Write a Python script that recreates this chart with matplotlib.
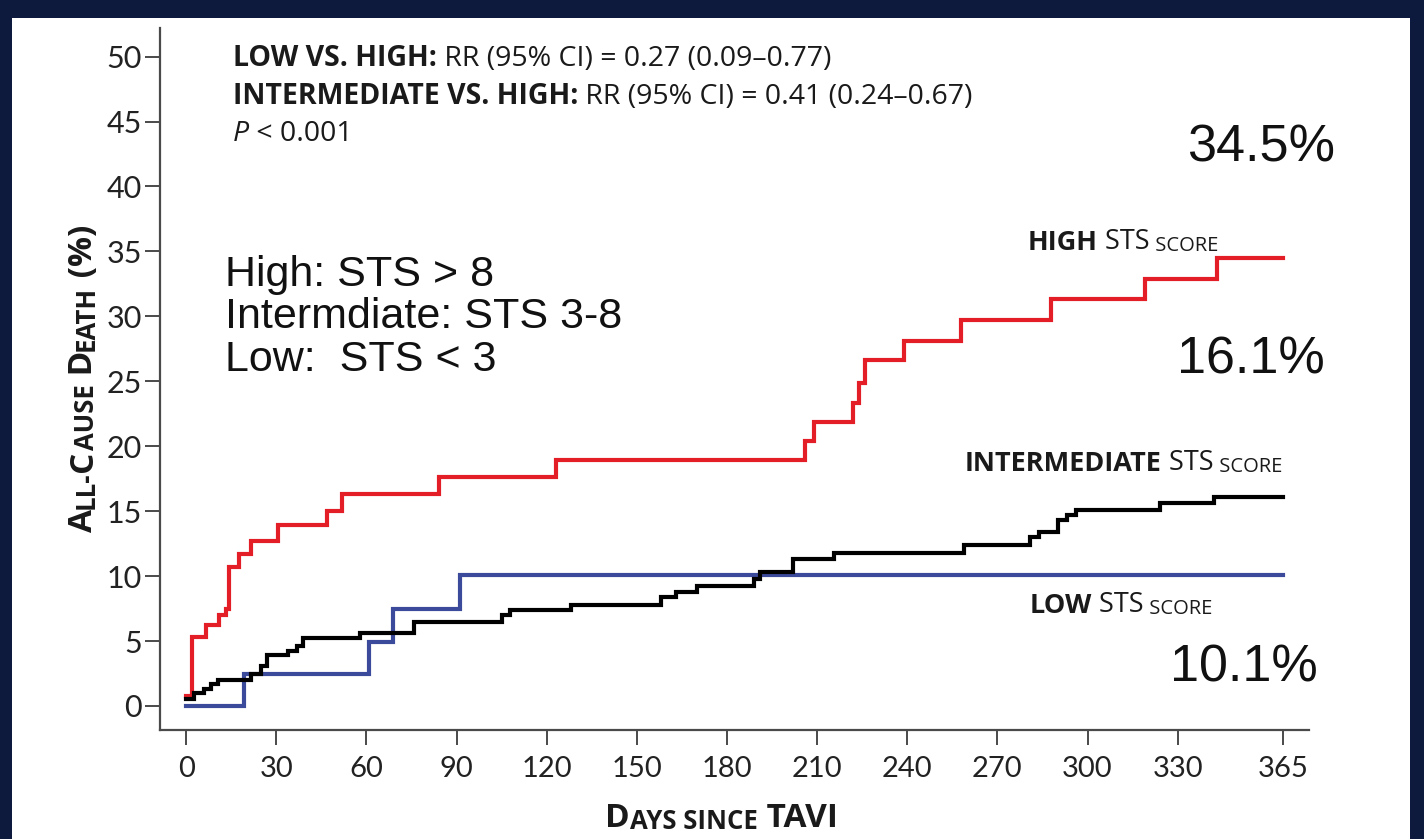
import matplotlib
matplotlib.use("Agg")
import matplotlib.pyplot as plt
from matplotlib.patches import Rectangle

# ---------------- data ----------------
high_days = [0, 2, 6.7, 11, 13.3, 14.4, 17.7, 21.7, 30.6, 47, 52, 84, 123,
             206, 209, 222, 224, 226, 239, 258, 288, 319, 343, 365]
high_vals = [0.8, 5.3, 6.2, 7.0, 7.5, 10.7, 11.7, 12.7, 13.9, 15.0, 16.3, 17.6, 18.9,
             20.4, 21.9, 23.3, 24.9, 26.6, 28.1, 29.7, 31.3, 32.9, 34.5, 34.5]

inter_days = [0, 2.7, 6, 8.3, 10.6, 21.7, 25, 27, 34, 37, 39, 57.7, 76, 105, 107.7,
              128, 158, 163, 170, 189, 191, 202, 215.7, 259, 281, 284, 290, 293, 296,
              324, 342, 365]
inter_vals = [0.5, 1.0, 1.3, 1.7, 2.0, 2.5, 3.1, 3.9, 4.2, 4.6, 5.2, 5.6, 6.5, 7.0, 7.4,
              7.8, 8.4, 8.8, 9.2, 9.8, 10.3, 11.3, 11.8, 12.4, 13.0, 13.4, 14.3, 14.7, 15.1,
              15.6, 16.1, 16.1]

low_days = [0, 19.3, 61, 69, 91, 365]
low_vals = [0.0, 2.5, 4.9, 7.5, 10.1, 10.1]

x_ticks = [0, 30, 60, 90, 120, 150, 180, 210, 240, 270, 300, 330, 365]
y_ticks = [0, 5, 10, 15, 20, 25, 30, 35, 40, 45, 50]

final_labels = ["34.5%", "16.1%", "10.1%"]
definitions = ["High: STS > 8", "Intermdiate: STS 3-8", "Low:  STS < 3"]

# ---------------- styling ----------------
RED = "#e31e26"
BLUE = "#3c4a9c"
BLACK = "#000000"
NAVY = "#0d1a3e"
SPINE = "#4a4a4a"
CAL = "Open Sans"
TICKFONT = "Lato"

W, H = 1424, 839
fig = plt.figure(figsize=(W / 100, H / 100), dpi=100, facecolor=NAVY)
fig.patches.append(Rectangle((12 / W, 0), (1410 - 12) / W, (H - 18) / H,
                             transform=fig.transFigure, facecolor="white",
                             edgecolor="none", zorder=-5))

L, R, T, B = 160, 1309, 28, 730
ax = fig.add_axes([L / W, 1 - B / H, (R - L) / W, (B - T) / H])
ax.set_facecolor("none")

ax.step(high_days, high_vals, where="post", color=RED, lw=3.0, solid_joinstyle="miter")
ax.step(low_days, low_vals, where="post", color=BLUE, lw=3.0, solid_joinstyle="miter")
ax.step(inter_days, inter_vals, where="post", color=BLACK, lw=3.0, solid_joinstyle="miter")

ax.set_xlim(-8.7, 373.7)
ax.set_ylim(-1.85, 52.2)
ax.set_xticks(x_ticks)
ax.set_yticks(y_ticks)
ax.set_xticklabels([str(v) for v in x_ticks], fontfamily=TICKFONT, fontsize=21, color="#222222")
ax.set_yticklabels([str(v) for v in y_ticks], fontfamily=TICKFONT, fontsize=22, color="#222222")
for s in ["top", "right"]:
    ax.spines[s].set_visible(False)
for s in ["left", "bottom"]:
    ax.spines[s].set_color(SPINE)
    ax.spines[s].set_linewidth(1.6)
ax.tick_params(axis="y", direction="out", length=11, width=1.4, color=SPINE, pad=2)
ax.tick_params(axis="x", direction="out", length=11, width=1.4, color=SPINE, pad=8)


def rich(x, y, parts, transform, rotation=0, color="#1a1a1a"):
    if rotation == 0:
        t = ax.text(x, y, parts[0][0], transform=transform, ha="left", va="baseline",
                    color=color, clip_on=False, **parts[0][1])
        for s, kw in parts[1:]:
            t = ax.annotate(s, xy=(1, 0), xycoords=t, ha="left", va="bottom",
                            color=color, **kw)
    else:
        t = ax.text(x, y, parts[0][0], transform=transform, ha="right", va="bottom",
                    rotation=90, color=color, clip_on=False, **parts[0][1])
        for s, kw in parts[1:]:
            t = ax.annotate(s, xy=(1, 1), xycoords=t, ha="right", va="bottom",
                            rotation=90, color=color, **kw)
    return t


def fam(size, weight="normal", style="normal"):
    return dict(fontfamily=CAL, fontsize=size, fontweight=weight, fontstyle=style)


# pixel -> axes fraction helpers
def axx(px):
    return (px - L) / (R - L)


def axy(py):
    return (B - py) / (B - T)


# top statistics block
top_size = 20.5
rich(axx(233), axy(66), [("LOW VS. HIGH:", fam(top_size, "bold")),
                         (" RR (95% CI) = 0.27 (0.09\u20130.77)", fam(top_size))], ax.transAxes)
rich(axx(233), axy(104), [("INTERMEDIATE VS. HIGH:", fam(top_size, "bold")),
                          (" RR (95% CI) = 0.41 (0.24\u20130.67)", fam(top_size))], ax.transAxes)
rich(axx(233), axy(141), [("P", fam(top_size, style="italic")),
                          (" < 0.001", fam(top_size))], ax.transAxes)

# curve labels
lab = 19.5
sc = 14.5
rich(axx(1028), axy(250), [("HIGH", fam(lab, "bold")), (" STS", fam(lab)),
                           (" SCORE", fam(sc))], ax.transAxes)
rich(axx(965), axy(471), [("INTERMEDIATE", fam(lab, "bold")), (" STS", fam(lab)),
                          (" SCORE", fam(sc))], ax.transAxes)
rich(axx(1030), axy(613), [("LOW", fam(lab, "bold")), (" STS", fam(lab)),
                           (" SCORE", fam(sc))], ax.transAxes)

# final percentages
for lbl, (px, py) in zip(final_labels, [(1335, 148), (1325, 360), (1318, 668)]):
    ax.text(axx(px), axy(py), lbl, transform=ax.transAxes, ha="right", va="center",
            fontfamily="Liberation Sans", fontsize=37.5, color="#111111", clip_on=False)

# definitions
for txt, py in zip(definitions, [275, 317, 360]):
    ax.text(axx(225), axy(py), txt, transform=ax.transAxes, ha="left", va="center",
            fontfamily="Liberation Sans", fontsize=31, color="#111111")

# axis labels with small caps
big, small = 24, 18.5
rich(axx(605), axy(827), [("D", fam(big, "bold")), ("AYS SINCE", fam(small, "bold")),
                          (" TAVI", fam(big, "bold"))], ax.transAxes)
rich(axx(100), axy(532), [("A", fam(big, "bold")), ("LL-", fam(small, "bold")),
                          ("C", fam(big, "bold")), ("AUSE", fam(small, "bold")),
                          (" D", fam(big, "bold")), ("EATH", fam(small, "bold")),
                          (" (%)", fam(big, "bold"))], ax.transAxes, rotation=90)

fig.savefig("out.png", dpi=100, facecolor=fig.get_facecolor())
